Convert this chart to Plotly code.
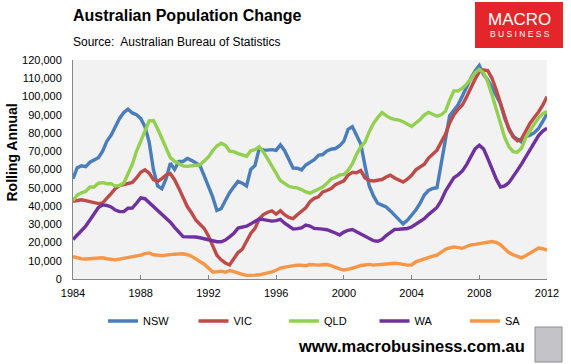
import plotly.graph_objects as go

# Quarterly periods, 1984 Q1 .. 2012 Q1
quarters = [1984 + q / 4 for q in range(113)]

# Rolling annual population change (thousands)
nsw = [55, 61, 62, 61.6, 64, 65.3, 66.5, 70, 75.5, 78.8, 83.5, 88, 91.2, 93, 91, 90, 88, 83.5, 75, 60,
       51, 49.5, 55, 63.5, 60, 64.4, 64.4, 66, 65, 63.5, 62.2, 56.5, 51, 45, 37.5, 38.5, 43, 47.3, 50.5, 53.5,
       52.5, 51, 60, 62.2, 71.4, 70.7, 70.6, 70.9, 70.5, 73.5, 70.3, 65, 60.8, 60.7, 59.8, 62.5, 63.7, 65.4, 67.8, 68.2,
       70.2, 71.1, 71.5, 73, 75.5, 82, 83.5, 78.7, 74, 62, 51, 45.5, 41.5, 40.5, 39.5, 37.3, 35, 32.5, 30.2, 32.2,
       34.9, 37.8, 41.4, 46, 48.5, 49.6, 50, 63.5, 76, 89.5, 92.5, 95.5, 100.3, 105.6, 110, 114, 117, 112, 109, 105,
       100, 96, 88, 82.5, 78.3, 76.5, 75, 78, 78.8, 80.2, 82.5, 86.3, 90.5]
vic = [42.6, 43.2, 43.4, 42.9, 42.3, 41.7, 41.3, 41.7, 44, 46.8, 49.6, 51.2, 51.7, 52.2, 52.9, 55.4, 58.5, 59.8, 58, 54.4,
       53.5, 55, 57, 57.8, 54.4, 49.8, 44.2, 39.7, 36.3, 32.3, 30, 27.7, 23.6, 18.3, 13, 10.5, 8.8, 7.7, 11.3, 14.5,
       16.3, 21, 25, 27.7, 33, 35.3, 36.6, 37.3, 35.6, 37.4, 35.2, 33.7, 33.1, 35.2, 37.3, 39, 42.4, 44.2, 45, 47.7,
       48.5, 49.6, 51.7, 52.8, 53.8, 57, 58.4, 58.2, 59.4, 55.4, 54, 53.7, 54, 54.5, 55.9, 56.9, 55.4, 54.1, 53.1, 54.7,
       56.8, 59.8, 61.5, 62.9, 66.3, 68.7, 70.6, 75, 79.3, 85.5, 90, 93, 95.3, 99.8, 105, 109.5, 113.5, 114.5, 114.2, 110,
       103.7, 96.8, 89.5, 82, 77.8, 75.7, 76.8, 81.5, 85.4, 88.5, 91.5, 95.3, 99.8]
qld = [43, 46, 47.2, 48, 50.4, 50.4, 52.5, 52.8, 52.2, 52.2, 50.9, 51.2, 52.6, 57.3, 62.7, 70, 76, 81, 86.6, 86.8,
       82.3, 77, 71.6, 66.5, 64.5, 63.2, 62, 61.7, 62, 62.3, 62.6, 64.7, 66.9, 70.3, 72.9, 74.4, 73.3, 70.1, 69.8, 68.7,
       67.8, 67.3, 70.3, 70.9, 72.4, 69.5, 65.8, 61.7, 57.6, 53.9, 52.4, 50.8, 50.2, 49.9, 49, 47.7, 47, 48.3, 49.5, 50.4,
       52.4, 54.8, 55.6, 57, 57.3, 59.5, 63, 68.3, 72.4, 75, 80.7, 85.3, 88.4, 91.2, 89.5, 88.1, 87.5, 87.1, 86.2, 85,
       83.6, 85.5, 87.3, 89.9, 91.3, 90.3, 89.2, 90, 91.9, 98, 103.1, 103.1, 104.5, 106.8, 109.5, 113.1, 114.8, 113, 108, 100.9,
       93, 84.9, 77.6, 72.5, 69.8, 69.5, 71.8, 77.6, 81.7, 85, 88.2, 90.6, 91.8]
wa = [21.6, 24.2, 26.6, 29, 32.3, 36, 39.2, 40.6, 40.3, 39.5, 37.8, 36.9, 36.9, 38.8, 38.9, 41.5, 44.4, 44, 41.8, 39.5,
      37.2, 35.5, 33.4, 31.1, 28.3, 25.6, 23.2, 23.1, 23.1, 23, 22.6, 22.1, 21.4, 20.7, 20.4, 20.4, 21.3, 23.1, 25, 27.9,
      28.2, 28.9, 30.2, 31.5, 32.9, 32.5, 32.1, 31.7, 32, 32.7, 30.6, 28.8, 27.4, 27.6, 28, 29.5, 29, 27.7, 27.3, 27.3,
      27, 26.2, 25.2, 24.1, 25.7, 26.7, 27.1, 25.9, 24.6, 23.2, 21.9, 21, 20.7, 21.6, 23.8, 25.5, 27.2, 27.3, 27.3, 27.7,
      28.5, 29.9, 31.3, 33, 35.3, 37, 39.2, 43, 48.1, 51.9, 55.5, 57.1, 59.2, 62.7, 66.8, 71.3, 73.3, 71.3, 66.1, 59.8,
      54.8, 50.4, 51, 52.8, 55.8, 59.5, 63.1, 67.2, 71.3, 75.2, 78.6, 81.1, 82.6]
sa = [12.2, 11.6, 11.1, 11, 11.2, 11.5, 11.6, 11.6, 11.1, 10.7, 10.5, 10.9, 11.3, 11.5, 12.3, 12.6, 13.1, 13.9, 14.3, 13.3,
      13, 12.8, 13.1, 13.5, 13.6, 13.7, 13.8, 13.3, 12.5, 11, 9.5, 8.1, 6, 3.8, 4, 4.3, 3.7, 4.6, 4, 3,
      2.5, 2, 1.9, 2.1, 2.3, 2.8, 3.2, 3.9, 4.8, 6, 6.5, 6.9, 7.2, 7.6, 7.5, 7.3, 7.9, 7.7, 7.6, 7.8,
      7.9, 7.3, 6.3, 5.6, 4.9, 5.3, 5.9, 6.6, 7.4, 7.7, 8, 7.6, 7.8, 8.4, 8.6, 8.6, 8.6, 8.4, 8, 7.6,
      7.7, 9.4, 10.2, 11.1, 11.9, 12.5, 13.1, 14.6, 16.3, 17, 17.6, 17.2, 16.8, 17.8, 18.7, 19, 19.3, 19.5, 19.9, 20.5,
      20.1, 18.8, 16.6, 14.5, 13.3, 12.4, 11.6, 12.8, 14.3, 15.8, 17, 16.6, 15.8]

series_names = ["NSW", "VIC", "QLD", "WA", "SA"]
series_values = [nsw, vic, qld, wa, sa]
series_colors = ["#4a7ebb", "#be4b48", "#92d050", "#7030a0", "#f79646"]

x_ticks = [1984, 1988, 1992, 1996, 2000, 2004, 2008, 2012]
y_ticks = [0, 10000, 20000, 30000, 40000, 50000, 60000, 70000, 80000, 90000, 100000, 110000, 120000]

FONT = "Liberation Sans"
W, H = 571, 364

fig = go.Figure()
for name, vals, col in zip(series_names, series_values, series_colors):
    fig.add_trace(go.Scatter(x=quarters, y=[v * 1000 for v in vals], mode="lines", name=name,
                             line=dict(color=col, width=3.4)))

fig.update_layout(
    width=W, height=H,
    margin=dict(l=73, r=24, t=60, b=85, autoexpand=False),
    paper_bgcolor="white", plot_bgcolor="#f2f2f2",
    font=dict(family=FONT, color="black", size=11),
    showlegend=True,
    legend=dict(orientation="h", xref="container", yref="container",
                x=103 / W, xanchor="left", y=1 - 321 / H, yanchor="middle",
                font=dict(size=11, family=FONT), entrywidth=45.5, entrywidthmode="pixels",
                bgcolor="rgba(0,0,0,0)", tracegroupgap=0),
    xaxis=dict(range=[1984, 2012], tickvals=x_ticks, ticktext=[str(t) for t in x_ticks],
               showgrid=False, zeroline=False, showline=True, linecolor="#868686", linewidth=1,
               ticks="inside", ticklen=4, tickcolor="#868686", tickfont=dict(size=11),
               ticklabelstandoff=4),
    yaxis=dict(range=[0, 120000], tickvals=y_ticks, tickformat=",d",
               showgrid=False, zeroline=False, showline=True, linecolor="#868686", linewidth=1,
               ticks="outside", ticklen=8, tickcolor="rgba(0,0,0,0)", tickfont=dict(size=11)),
)

def px_x(px):
    return (px - 73) / 474

def px_y(py):
    return (279 - py) / 219

annotations = [
    dict(text="<b>Australian Population Change</b>", x=px_x(71), y=px_y(15), xanchor="left", yanchor="middle",
         font=dict(size=16, family=FONT, color="black")),
    dict(text="Source:  Australian Bureau of Statistics", x=px_x(71), y=px_y(42), xanchor="left", yanchor="middle",
         font=dict(size=12, family=FONT, color="black")),
    dict(text="<b>Rolling Annual</b>", x=px_x(11), y=px_y(152.5), xanchor="center", yanchor="middle",
         textangle=-90, font=dict(size=14, family=FONT, color="black")),
    dict(text="<b>www.macrobusiness.com.au</b>", x=px_x(411.5), y=px_y(345.5), xanchor="center", yanchor="middle",
         font=dict(size=16.5, family=FONT, color="black")),
    dict(text="MACRO", x=px_x(519.5), y=px_y(19.5), xanchor="center", yanchor="middle",
         font=dict(size=17, family=FONT, color="white")),
    dict(text="B U S I N E S S", x=px_x(519.5), y=px_y(33.7), xanchor="center", yanchor="middle",
         font=dict(size=8.5, family=FONT, color="white")),
]
for a in annotations:
    a.update(xref="paper", yref="paper", showarrow=False)
fig.update_layout(annotations=annotations)

shapes = [
    dict(type="rect", x0=px_x(475), x1=px_x(563), y0=px_y(48), y1=px_y(2),
         fillcolor="#e4262b", line=dict(width=0), layer="below"),
    dict(type="rect", x0=px_x(535), x1=px_x(562), y0=px_y(362), y1=px_y(327),
         fillcolor="#c4c4c8", line=dict(color="#8c8c8c", width=1), layer="below"),
]
for s in shapes:
    s.update(xref="paper", yref="paper")
fig.update_layout(shapes=shapes)

fig.write_html("out.html", config={"displayModeBar": False},
               post_script="document.body.style.margin='0';document.body.style.overflow='hidden';")
